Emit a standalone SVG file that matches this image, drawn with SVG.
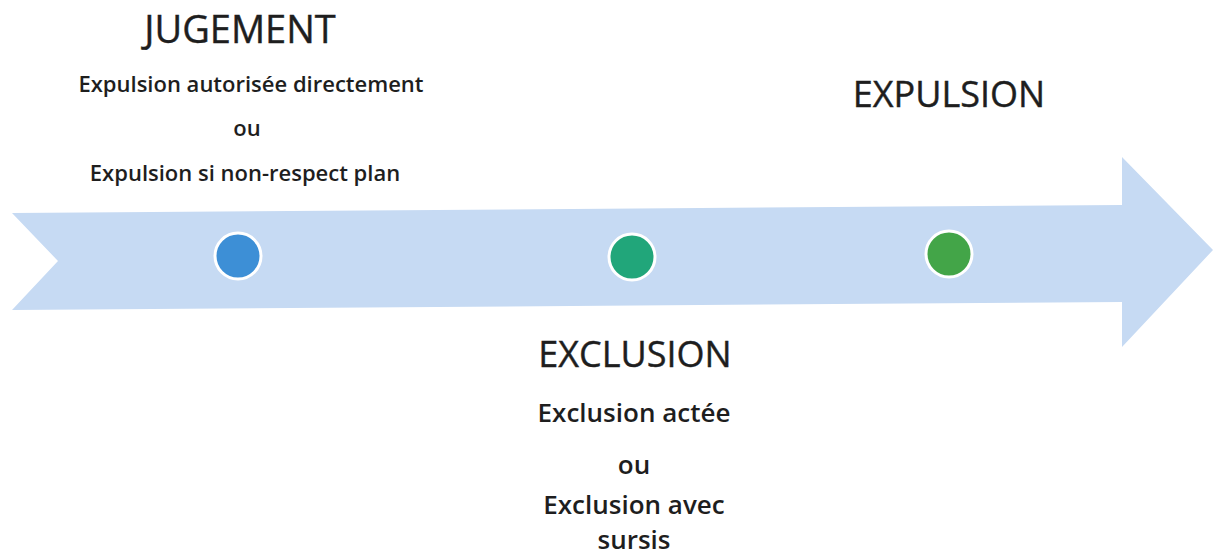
<svg xmlns="http://www.w3.org/2000/svg" width="1214" height="557" viewBox="0 0 1214 557">
<style>
.title{font-family:"Open Sans","Liberation Sans",sans-serif;font-size:36px;fill:#1e1e1e;text-anchor:middle;stroke:#1e1e1e;stroke-width:0.4}
.sub{font-family:"Open Sans","Liberation Sans",sans-serif;font-weight:600;font-size:22px;fill:#1e1e1e;text-anchor:middle}
.sub2{font-family:"Open Sans","Liberation Sans",sans-serif;font-weight:600;font-size:26px;fill:#1e1e1e;text-anchor:middle}
.dot{stroke:#ffffff;stroke-width:3}
</style>
<rect width="1214" height="557" fill="#ffffff"/>
<g id="connectors">
<polygon id="arrow" points="12,213 1122,205 1122,157 1213,250 1122,347 1122,302 12,310 58,261" fill="#c6daf3"/>
</g>
<g id="jugement">
<circle class="dot" cx="238" cy="256" r="23" fill="#3d8fd6"/>
<text class="title" x="240" y="43" style="font-size:38px">JUGEMENT</text>
<text class="sub" x="251" y="92">Expulsion autorisée directement</text>
<text class="sub" x="247" y="136">ou</text>
<text class="sub" x="245" y="181">Expulsion si non-respect plan</text>
</g>
<g id="exclusion">
<circle class="dot" cx="632" cy="257" r="23" fill="#21a67a"/>
<text class="title" x="635" y="367">EXCLUSION</text>
<text class="sub2" x="634" y="422">Exclusion actée</text>
<text class="sub2" x="634" y="474">ou</text>
<text class="sub2" x="634" y="514">Exclusion avec</text>
<text class="sub2" x="634" y="549">sursis</text>
</g>
<g id="expulsion">
<circle class="dot" cx="949" cy="254" r="23" fill="#43a548"/>
<text class="title" x="949" y="107">EXPULSION</text>
</g>
</svg>
